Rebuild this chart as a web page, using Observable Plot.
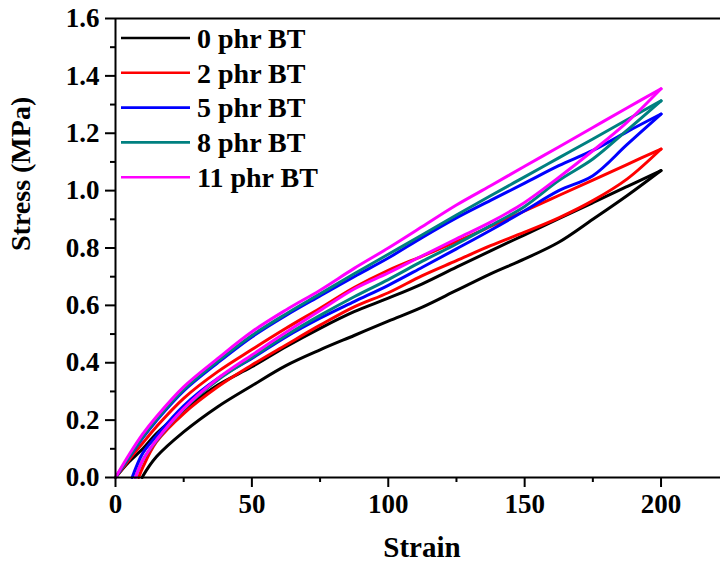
<!DOCTYPE html>
<html>
<head>
<meta charset="utf-8">
<script src="https://cdn.jsdelivr.net/npm/d3@7"></script>
<script src="https://cdn.jsdelivr.net/npm/@observablehq/plot@0.6"></script>
<style>
  html, body { margin: 0; padding: 0; background: #fff; }
  #wrap { position: relative; width: 720px; height: 563px; }
  #legend { position: absolute; left: 0; top: 0; }
</style>
</head>
<body>
<div id="wrap"></div>
<script>
const seriesNames = ["0 phr BT", "2 phr BT", "5 phr BT", "8 phr BT", "11 phr BT"];
const seriesColors = ["#000000", "#ff0000", "#0000ff", "#008080", "#ff00ff"];

// loading branch (strain increasing)
const loadStrain = [0, 5, 10, 15, 25, 37.5, 50, 62.5, 75, 87.5, 100, 112.5, 125, 137.5, 150, 162.5, 175, 187.5, 200];
const load0  = [0, 0.055, 0.100, 0.153, 0.235, 0.322, 0.386, 0.456, 0.520, 0.578, 0.625, 0.675, 0.733, 0.790, 0.846, 0.902, 0.958, 1.014, 1.070];
const load2  = [0, 0.062, 0.120, 0.177, 0.276, 0.369, 0.446, 0.520, 0.590, 0.662, 0.722, 0.772, 0.822, 0.875, 0.929, 0.983, 1.037, 1.091, 1.145];
const load5  = [0, 0.070, 0.138, 0.198, 0.302, 0.400, 0.490, 0.565, 0.633, 0.700, 0.765, 0.837, 0.905, 0.966, 1.026, 1.087, 1.140, 1.205, 1.267];
const load8  = [0, 0.072, 0.142, 0.202, 0.306, 0.405, 0.495, 0.570, 0.640, 0.710, 0.778, 0.846, 0.915, 0.982, 1.048, 1.114, 1.180, 1.247, 1.313];
const load11 = [0, 0.080, 0.152, 0.212, 0.316, 0.415, 0.508, 0.584, 0.653, 0.729, 0.800, 0.875, 0.950, 1.017, 1.085, 1.152, 1.220, 1.288, 1.355];

// unloading branch (strain decreasing), ends at residual strain
const unloadStrain = [200, 187.5, 175, 162.5, 150, 137.5, 125, 112.5, 100, 87.5, 75, 62.5, 50, 37.5, 25, 15, 10];
const residualStrain = [9.8, 8.5, 6.1, 7.3, 7.3];
const unload0  = [1.070, 0.982, 0.900, 0.820, 0.762, 0.710, 0.652, 0.594, 0.545, 0.495, 0.445, 0.390, 0.320, 0.247, 0.159, 0.072, 0.004];
const unload2  = [1.145, 1.040, 0.965, 0.905, 0.855, 0.808, 0.756, 0.704, 0.644, 0.595, 0.531, 0.462, 0.392, 0.316, 0.223, 0.124, 0.035];
const unload5  = [1.267, 1.160, 1.052, 1.000, 0.930, 0.862, 0.797, 0.733, 0.670, 0.613, 0.555, 0.490, 0.415, 0.345, 0.250, 0.145, 0.085];
const unload8  = [1.313, 1.210, 1.110, 1.035, 0.945, 0.878, 0.814, 0.754, 0.690, 0.630, 0.565, 0.495, 0.418, 0.340, 0.238, 0.128, 0.060];
const unload11 = [1.355, 1.238, 1.139, 1.046, 0.959, 0.890, 0.832, 0.773, 0.713, 0.657, 0.582, 0.506, 0.427, 0.345, 0.240, 0.130, 0.060];

const yMajor = [0, 0.2, 0.4, 0.6, 0.8, 1.0, 1.2, 1.4, 1.6];
const yMinor = [0.1, 0.3, 0.5, 0.7, 0.9, 1.1, 1.3, 1.5];
const xMajor = [0, 50, 100, 150, 200];
const xMinor = [25, 75, 125, 175];

const loads = [load0, load2, load5, load8, load11];
const unloads = [unload0, unload2, unload5, unload8, unload11];

const rows = [];
seriesNames.forEach((name, i) => {
  loadStrain.forEach((s, j) => rows.push({series: name, branch: "load", strain: s, stress: loads[i][j]}));
  unloadStrain.forEach((s, j) => rows.push({series: name, branch: "unload", strain: s, stress: unloads[i][j]}));
  rows.push({series: name, branch: "unload", strain: residualStrain[i], stress: 0});
});

const font = "'Liberation Serif', 'Times New Roman', serif";

const chart = Plot.plot({
  width: 720,
  height: 563,
  marginLeft: 115,
  marginRight: 0,
  marginTop: 18,
  marginBottom: 86,
  style: {fontFamily: font, fontSize: "27px", fontWeight: "bold", background: "#fff", color: "#000"},
  x: {domain: [0, 221.8]},
  y: {domain: [0, 1.6]},
  color: {domain: seriesNames, range: seriesColors},
  marks: [
    Plot.line(rows, {x: "strain", y: "stress", z: d => d.series + "-" + d.branch, stroke: "series", strokeWidth: 3, curve: "catmull-rom"}),
    Plot.ruleX([0], {stroke: "#000", strokeWidth: 2}),
    Plot.ruleY([0], {stroke: "#000", strokeWidth: 2}),
    Plot.ruleY([1.6], {stroke: "#000", strokeWidth: 2}),
    Plot.axisY({ticks: yMajor, tickSize: 10, tickPadding: 6, strokeWidth: 2, tickFormat: d3.format(".1f"), label: null}),
    Plot.axisY({ticks: yMinor, tickSize: 5, strokeWidth: 2, tickFormat: () => "", label: null}),
    Plot.axisX({ticks: xMajor, tickSize: 10, tickPadding: 6, strokeWidth: 2, tickFormat: d3.format("d"), label: null}),
    Plot.axisX({ticks: xMinor, tickSize: 5, strokeWidth: 2, tickFormat: () => "", label: null}),
    Plot.text(["Strain"], {frameAnchor: "bottom", dx: 4, dy: 70, fontSize: 29, fontWeight: "bold", lineAnchor: "middle"}),
    Plot.text(["Stress (MPa)"], {frameAnchor: "left", dx: -94, dy: 3, rotate: -90, fontSize: 28, fontWeight: "bold", lineAnchor: "middle"})
  ]
});

const wrap = document.getElementById("wrap");
wrap.appendChild(chart);

// legend overlay
const leg = d3.select(wrap).append("svg")
  .attr("id", "legend")
  .attr("width", 720).attr("height", 563)
  .style("pointer-events", "none");
const rowH = 34.8;
seriesNames.forEach((name, i) => {
  const y = 38 + i * rowH;
  leg.append("line")
    .attr("x1", 121).attr("x2", 190).attr("y1", y).attr("y2", y)
    .attr("stroke", seriesColors[i]).attr("stroke-width", 2.6);
  leg.append("text")
    .attr("x", 197).attr("y", y)
    .attr("dy", "0.35em")
    .attr("font-family", font).attr("font-size", 28).attr("font-weight", "bold")
    .attr("fill", "#000")
    .text(name);
});
</script>
</body>
</html>
